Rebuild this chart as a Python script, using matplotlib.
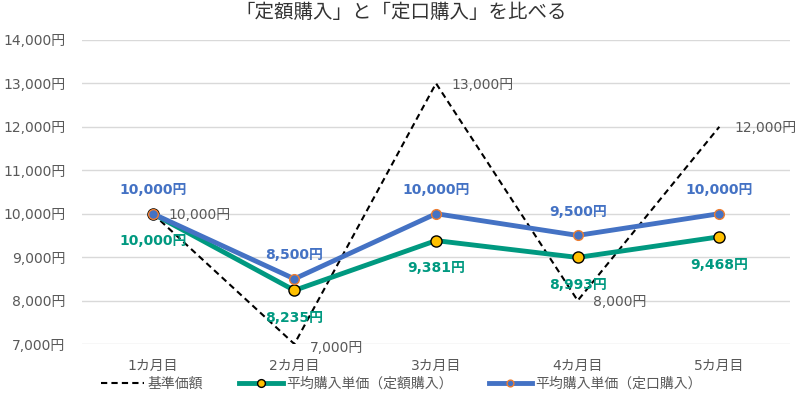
import matplotlib
matplotlib.use("Agg")
import matplotlib.pyplot as plt
import numpy as np

plt.rcParams['font.family'] = ['DejaVu Sans', 'Noto Sans CJK JP']

months = ["1カ月目", "2カ月目", "3カ月目", "4カ月目", "5カ月目"]
base_price = [10000, 7000, 13000, 8000, 12000]
avg_fixed_amount = [10000, 8235, 9381, 8993, 9468]
avg_fixed_qty = [10000, 8500, 10000, 9500, 10000]

GREEN = "#009980"
BLUE = "#4472C4"
GRAY = "#595959"
JP = ['Noto Sans CJK JP', 'DejaVu Sans']

fig = plt.figure(figsize=(8.03, 3.95), dpi=100)
ax = fig.add_axes([0.102, 0.129, 0.882, 0.770])
x = np.arange(len(months))

ax.plot(x, base_price, color="black", linestyle=(0, (3, 2)), linewidth=1.5,
        label="基準価額", zorder=3)
ax.plot(x, avg_fixed_amount, color=GREEN, linewidth=3.5, marker="o", markersize=8,
        markerfacecolor="#FFC000", markeredgecolor="black", markeredgewidth=1,
        label="平均購入単価（定額購入）", zorder=4)
ax.plot(x, avg_fixed_qty, color=BLUE, linewidth=3.5, marker="o", markersize=7,
        markerfacecolor=BLUE, markeredgecolor="#ED7D31", markeredgewidth=1,
        label="平均購入単価（定口購入）", zorder=5)

for i in range(len(x)):
    ax.annotate(f"{base_price[i]:,}円", (x[i], base_price[i]), textcoords="offset points",
                xytext=(11, -1 if i != 1 else -3), ha="left", va="center", fontsize=10, color=GRAY)
    ax.annotate(f"{avg_fixed_qty[i]:,}円", (x[i], avg_fixed_qty[i]), textcoords="offset points",
                xytext=(0, 17), ha="center", va="center", fontsize=10, color=BLUE,
                fontweight="bold")
    ax.annotate(f"{avg_fixed_amount[i]:,}円", (x[i], avg_fixed_amount[i]), textcoords="offset points",
                xytext=(0, -20), ha="center", va="center", fontsize=10, color=GREEN,
                fontweight="bold")

ax.set_xlim(-0.5, 4.5)
ax.set_ylim(7000, 14000)
ax.set_yticks(range(7000, 14001, 1000))
ax.set_yticklabels([f"{v:,}円" for v in range(7000, 14001, 1000)])
ax.set_xticks(x)
ax.set_xticklabels(months)
ax.tick_params(axis="both", length=0, labelsize=10, labelcolor=GRAY)
ax.tick_params(axis="x", pad=11)
ax.tick_params(axis="y", pad=12)
ax.grid(axis="y", color="#D9D9D9", linewidth=1)
ax.set_axisbelow(True)
for s in ax.spines.values():
    s.set_visible(False)

fig.suptitle("「定額購入」と「定口購入」を比べる", x=0.5, y=0.995, fontsize=14,
             color="#333333", family=JP)
leg = fig.legend(loc="lower center", bbox_to_anchor=(0.5, -0.02), ncol=3, frameon=False,
                 labelcolor=GRAY, handlelength=3.1, columnspacing=2.6,
                 handletextpad=0.25, markerscale=0.7, prop={'family': JP, 'size': 10})

fig.savefig("out.png", dpi=100)
